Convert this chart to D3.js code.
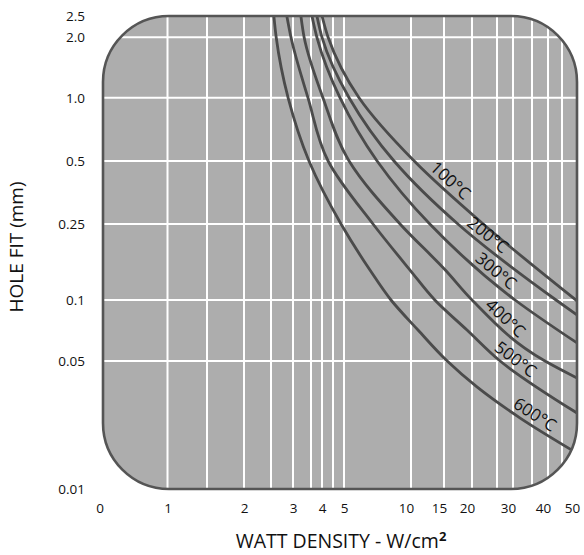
<!DOCTYPE html>
<html>
<head>
<meta charset="utf-8">
<script src="https://cdn.jsdelivr.net/npm/d3@7"></script>
<style>
  body { margin: 0; background: #fff; }
  text { font-family: "Open Sans", "Noto Sans", sans-serif; fill: #111; }
</style>
</head>
<body>
<svg id="chart" width="584" height="555"></svg>
<script>

// watt density (W/cm2) where the grid is drawn, and the labelled ticks
var xGridValues = [1, 1.5, 2, 2.5, 3, 3.5, 4, 4.5, 5, 10, 15, 20, 25, 30, 35, 40, 45],
    xTickValues = [1, 2, 3, 4, 5, 10, 15, 20, 30, 40, 50],
    xMax = 50,

    // hole fit (mm)
    yTickValues = [2.5, 2.0, 1.0, 0.5, 0.25, 0.1, 0.05, 0.01],
    yTickLabels = ["2.5", "2.0", "1.0", "0.5", "0.25", "0.1", "0.05", "0.01"],
    yGridValues = [2.0, 1.0, 0.5, 0.25, 0.1, 0.05],

    curveNames = ["100°C", "200°C", "300°C", "400°C", "500°C", "600°C"],

    // each curve: watt density / hole fit pairs
    density100 = [4.0, 4.27, 5.84, 10.4, 22.1, 50],
    fit100     = [2.5, 2.0, 1.0, 0.5, 0.25, 0.099],
    density200 = [3.76, 4.0, 5.27, 8.39, 17.3, 42.8, 50],
    fit200     = [2.5, 2.0, 1.0, 0.5, 0.25, 0.1, 0.0844],
    density300 = [3.54, 3.76, 4.81, 7.04, 12.6, 30.5, 50],
    fit300     = [2.5, 2.0, 1.0, 0.5, 0.25, 0.1, 0.0614],
    density400 = [3.21, 3.30, 4.04, 5.27, 8.93, 15.2, 20, 39, 50],
    fit400     = [2.5, 2.0, 1.0, 0.5, 0.25, 0.1435, 0.1, 0.05, 0.0404],
    density500 = [2.85, 2.95, 3.41, 4.27, 6.75, 9.9, 13.4, 19.0, 25.9, 50],
    fit500     = [2.5, 2.0, 1.0, 0.5, 0.25, 0.1435, 0.1, 0.0711, 0.05, 0.026],
    density600 = [2.56, 2.61, 2.88, 3.44, 4.86, 6.54, 8.13, 10.9, 15.5, 20.9, 31.8, 50],
    fit600     = [2.5, 2.0, 1.0, 0.5, 0.25, 0.1435, 0.1, 0.0711, 0.05, 0.0361, 0.0244, 0.0157];

var curves = [
    {name: curveNames[0], density: density100, fit: fit100},
    {name: curveNames[1], density: density200, fit: fit200},
    {name: curveNames[2], density: density300, fit: fit300},
    {name: curveNames[3], density: density400, fit: fit400},
    {name: curveNames[4], density: density500, fit: fit500},
    {name: curveNames[5], density: density600, fit: fit600}
];

// layout
var plot = {left: 103, right: 577, top: 16, bottom: 489, radius: 66},
    // the printed chart is not a clean log grid, so the scale is piecewise
    xStopPx = [167.5, 207, 244, 271, 293, 311, 322, 333, 344, 411, 444, 472, 497, 513, 532, 548, 562, 577],
    yStopPx = [16, 37.3, 97.7, 161, 224, 300, 361, 489],
    labelAtPx = [443, 481, 489, 498, 509, 529],
    fillColor = "#adadad",
    lineColor = "#4b4b4b",
    borderColor = "#555";

var svg = d3.select("#chart");

var x = d3.scaleLog()
    .domain(xGridValues.concat([xMax]))
    .range(xStopPx);

var y = d3.scaleLog()
    .domain(yTickValues)
    .range(yStopPx);

// clip everything to the rounded panel
svg.append("clipPath")
    .attr("id", "panel")
  .append("rect")
    .attr("x", plot.left)
    .attr("y", plot.top)
    .attr("width", plot.right - plot.left)
    .attr("height", plot.bottom - plot.top)
    .attr("rx", plot.radius);

svg.append("rect")
    .attr("x", plot.left)
    .attr("y", plot.top)
    .attr("width", plot.right - plot.left)
    .attr("height", plot.bottom - plot.top)
    .attr("rx", plot.radius)
    .attr("fill", fillColor);

var inner = svg.append("g").attr("clip-path", "url(#panel)");

// grid
inner.selectAll(".vgrid")
    .data(xGridValues)
    .enter().append("line")
    .attr("class", "vgrid")
    .attr("x1", function (d) { return x(d); })
    .attr("x2", function (d) { return x(d); })
    .attr("y1", plot.top)
    .attr("y2", plot.bottom)
    .attr("stroke", "#fff")
    .attr("stroke-width", 2);

inner.selectAll(".hgrid")
    .data(yGridValues)
    .enter().append("line")
    .attr("class", "hgrid")
    .attr("x1", plot.left)
    .attr("x2", plot.right)
    .attr("y1", function (d) { return y(d); })
    .attr("y2", function (d) { return y(d); })
    .attr("stroke", "#fff")
    .attr("stroke-width", 2);

// curves (y grows steadily along each one, so interpolate on y)
var line = d3.line()
    .x(function (d) { return x(d[0]); })
    .y(function (d) { return y(d[1]); })
    .curve(d3.curveMonotoneY);

var paths = inner.selectAll(".curve")
    .data(curves)
    .enter().append("path")
    .attr("class", "curve")
    .attr("d", function (c) {
        return line(c.density.map(function (v, i) { return [v, c.fit[i]]; }));
    })
    .attr("fill", "none")
    .attr("stroke", lineColor)
    .attr("stroke-width", 2.8);

// border on top
svg.append("rect")
    .attr("x", plot.left)
    .attr("y", plot.top)
    .attr("width", plot.right - plot.left)
    .attr("height", plot.bottom - plot.top)
    .attr("rx", plot.radius)
    .attr("fill", "none")
    .attr("stroke", borderColor)
    .attr("stroke-width", 2.6);

// curve labels, set along each curve
paths.each(function (c, i) {
    var node = this,
        total = node.getTotalLength(),
        lo = 0, hi = total;
    for (var k = 0; k < 40; k++) {
        var mid = (lo + hi) / 2;
        if (node.getPointAtLength(mid).x < labelAtPx[i]) lo = mid; else hi = mid;
    }
    var p = node.getPointAtLength(lo),
        q = node.getPointAtLength(Math.min(total, lo + 2)),
        angle = Math.atan2(q.y - p.y, q.x - p.x) * 180 / Math.PI;
    svg.append("text")
        .attr("transform", "translate(" + p.x + "," + p.y + ") rotate(" + angle + ")")
        .attr("text-anchor", "middle")
        .attr("dy", "-0.3em")
        .attr("font-size", 17)
        .text(c.name);
});

// axes
var xAxis = svg.append("g")
    .attr("transform", "translate(0," + plot.bottom + ")")
    .call(d3.axisBottom(x)
        .tickValues(xTickValues)
        .tickFormat(d3.format("d"))
        .tickSize(0)
        .tickPadding(14));
xAxis.select(".domain").remove();
xAxis.attr("font-family", null).attr("font-size", 13.5);
// the printed two-digit labels sit a little left of their lines
xAxis.selectAll(".tick text")
    .attr("dx", function (d) { return d >= 10 ? -5 : 0; });

xAxis.append("text")
    .attr("x", plot.left - 3)
    .attr("y", 14)
    .attr("dy", "0.71em")
    .attr("text-anchor", "middle")
    .text("0");

var yAxis = svg.append("g")
    .attr("transform", "translate(" + plot.left + ",0)")
    .call(d3.axisLeft(y)
        .tickValues(yTickValues)
        .tickFormat(function (d, i) { return yTickLabels[i]; })
        .tickSize(0)
        .tickPadding(18));
yAxis.select(".domain").remove();
yAxis.attr("font-family", null).attr("font-size", 13.5);

// titles
svg.append("text")
    .attr("transform", "translate(23,247) rotate(-90)")
    .attr("text-anchor", "middle")
    .attr("font-size", 19)
    .text("HOLE FIT (mm)");

var xTitle = svg.append("text")
    .attr("x", 341)
    .attr("y", 548)
    .attr("text-anchor", "middle")
    .attr("font-size", 19.5);
xTitle.append("tspan").text("WATT DENSITY - W/cm");
xTitle.append("tspan")
    .attr("font-size", 13)
    .attr("font-weight", "bold")
    .attr("dy", -7)
    .text("2");

</script>
</body>
</html>
